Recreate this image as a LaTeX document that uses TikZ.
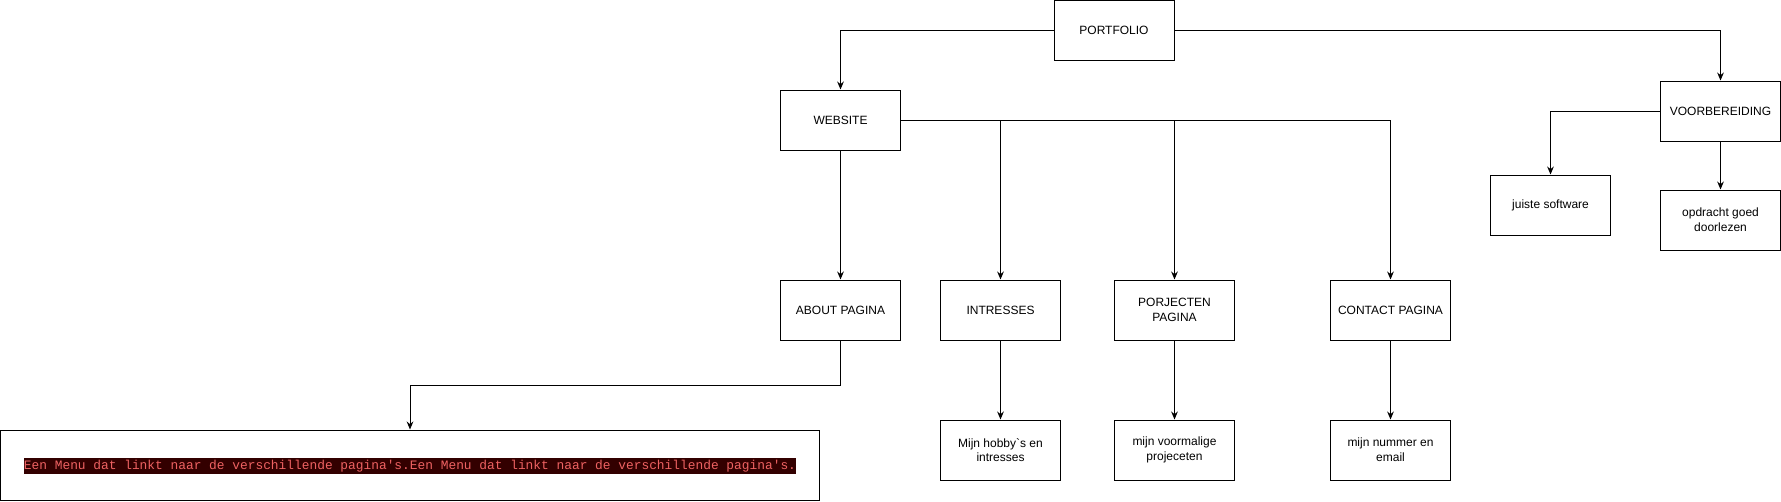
\documentclass[tikz,border=0pt]{standalone}
\usepackage{fontspec}
\setmainfont{Liberation Sans}
\newfontfamily\codefont{Liberation Mono}
\usetikzlibrary{arrows.meta}

\definecolor{codebg}{RGB}{51,0,0}
\definecolor{codefg}{RGB}{238,98,98}

\tikzset{
    box/.style={draw=black,line width=0.75pt,fill=white,minimum width=90pt,minimum height=45pt,
        inner sep=2pt,align=center,font=\fontsize{9}{11}\selectfont},
    link/.style={draw=black,line width=0.75pt,-{Stealth[length=6pt,width=5pt]}},
    plain/.style={draw=black,line width=0.75pt}
}

\begin{document}
\begin{tikzpicture}[x=0.75pt,y=-0.75pt]

    \useasboundingbox (0,0) rectangle (1781,501);

    \node[box] (portfolio) at (1114,30.5) {PORTFOLIO};
    \node[box] (website) at (840.5,120) {WEBSITE};
    \node[box] (voorbereiding) at (1720.5,111) {VOORBEREIDING};
    \node[box] (software) at (1550.5,205) {juiste software};
    \node[box] (opdracht) at (1720.5,220) {opdracht goed\\doorlezen};

    \node[box] (about) at (840.5,310) {ABOUT PAGINA};
    \node[box] (intresses) at (1000.5,310) {INTRESSES};
    \node[box] (projecten) at (1174.5,310) {PORJECTEN\\PAGINA};
    \node[box] (contact) at (1390.5,310) {CONTACT PAGINA};

    \node[box] (hobby) at (1000.5,450) {Mijn hobby\textasciigrave s en\\intresses};
    \node[box] (voormalig) at (1174.5,450) {mijn voormalige\\projeceten};
    \node[box] (nummer) at (1390.5,450) {mijn nummer en\\email};

    \node[box,minimum width=614pt,minimum height=52.5pt] (menu) at (410,465) {};
    \node[fill=codebg,text=codefg,inner xsep=0pt,inner ysep=1.5pt,font=\codefont\fontsize{9.65}{11}\selectfont]
        (menutext) at (410,466) {Een Menu dat linkt naar de verschillende pagina's.Een Menu dat linkt naar de verschillende pagina's.};

    \coordinate (aboutbend) at (840.5,385);

    \draw[link] (portfolio.west) -| (website.north);
    \draw[link] (portfolio.east) -| (voorbereiding.north);
    \draw[link] (voorbereiding.west) -| (software.north);
    \draw[link] (voorbereiding.south) -- (opdracht.north);

    \draw[link] (website.south) -- (about.north);
    \draw[link] (website.east) -| (intresses.north);
    \draw[link] (website.east) -| (projecten.north);
    \draw[link] (website.east) -| (contact.north);

    \draw[link] (intresses.south) -- (hobby.north);
    \draw[link] (projecten.south) -- (voormalig.north);
    \draw[link] (contact.south) -- (nummer.north);

    \draw[plain] (about.south) -- (aboutbend);
    \draw[link] (aboutbend) -| (menu.north);

\end{tikzpicture}
\end{document}
